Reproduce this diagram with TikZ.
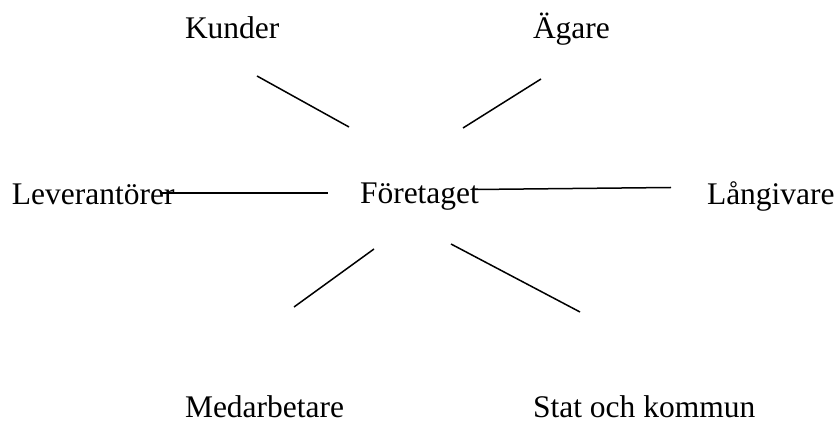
\documentclass[tikz,border=0pt]{standalone}
\usepackage{fontspec}
\setmainfont{Liberation Serif}
\begin{document}
\begin{tikzpicture}[x=1pt,y=-1pt,
  lbl/.style={anchor=base west,inner sep=0pt,outer sep=0pt,
    font=\fontsize{31.5}{36}\selectfont},
  link/.style={line width=1.5pt,black}]
\useasboundingbox (0,0) rectangle (839,427);

% stakeholder labels
\node[lbl] (kunder) at (185,39) {Kunder};
\node[lbl] (agare) at (533,39) {Ägare};
\node[lbl] (lev) at (12,205) {Leverantörer};
\node[lbl] (foretaget) at (360,204) {Företaget};
\node[lbl] (lang) at (707,205) {Långivare};
\node[lbl] (medarb) at (185,418) {Medarbetare};
\node[lbl] (stat) at (533,418) {Stat och kommun};

% line end points
\coordinate (k1) at (257,76);  \coordinate (k2) at (349,127);
\coordinate (a1) at (541,79);  \coordinate (a2) at (463,128);
\coordinate (l1) at (160,193); \coordinate (l2) at (328,193);
\coordinate (r1) at (475,189.5); \coordinate (r2) at (671,187.5);
\coordinate (m1) at (374,249); \coordinate (m2) at (294,307);
\coordinate (s1) at (451,244); \coordinate (s2) at (580,312);

% connectors
\draw[link] (k1) -- (k2);
\draw[link] (a1) -- (a2);
\draw[link] (l1) -- (l2);
\draw[link] (r1) -- (r2);
\draw[link] (m1) -- (m2);
\draw[link] (s1) -- (s2);
\end{tikzpicture}
\end{document}
